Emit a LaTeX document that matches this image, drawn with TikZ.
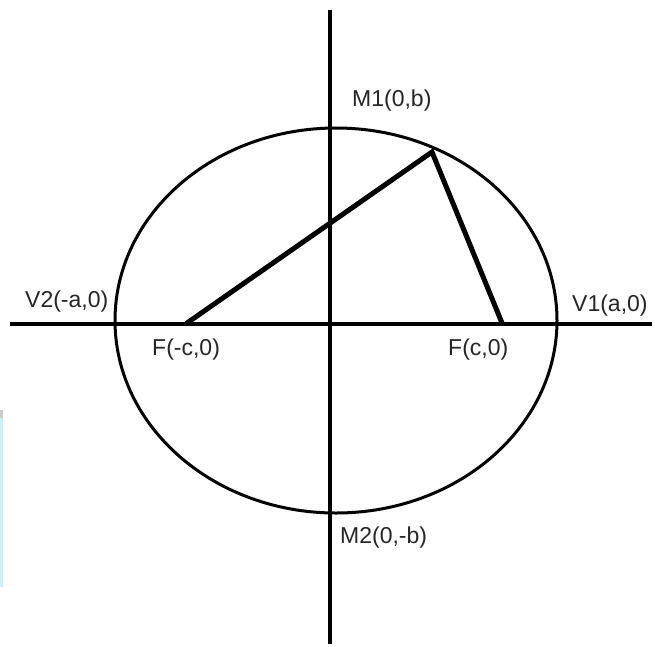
\documentclass[tikz,border=0pt]{standalone}
\usepackage{fontspec}
\setmainfont{Liberation Sans}
\begin{document}
\begin{tikzpicture}[x=1pt,y=-1pt,
  lbl/.style={anchor=base west,inner sep=0pt,text=black!85,font=\fontsize{23}{27}\selectfont},
  axis/.style={line width=4pt},
  curve/.style={line width=3pt},
  chord/.style={line width=5pt,line cap=round}]
\useasboundingbox (0,0) rectangle (655,646);
\fill[white] (0,0) rectangle (655,646);
% light blue strip at the left edge
\fill[cyan!20] (0,412) rectangle (3,587);
\fill[black!20] (0,410) rectangle (3,418);
% axes
\coordinate (xl) at (10,324);
\coordinate (xr) at (652,324);
\coordinate (yt) at (330,10);
\coordinate (yb) at (330,644);
\draw[axis] (xl) -- (xr);
\draw[axis] (yt) -- (yb);
% ellipse
\coordinate (O) at (336,320.5);
\draw[curve] (O) ellipse [x radius=221, y radius=192.5];
% foci and point on the ellipse
\coordinate (F1) at (187,323);
\coordinate (F2) at (502,323);
\coordinate (P) at (432,152);
\draw[chord] (F1) -- (P) -- (F2);
% labels
\node[lbl] (v2) at (25,307) {V2(-a,0)};
\node[lbl] (v1) at (572,311) {V1(a,0)};
\node[lbl] (m1) at (352,106) {M1(0,b)};
\node[lbl] (m2) at (340,543) {M2(0,-b)};
\node[lbl] (f1) at (152,355) {F(-c,0)};
\node[lbl] (f2) at (448,355) {F(c,0)};
\end{tikzpicture}
\end{document}
